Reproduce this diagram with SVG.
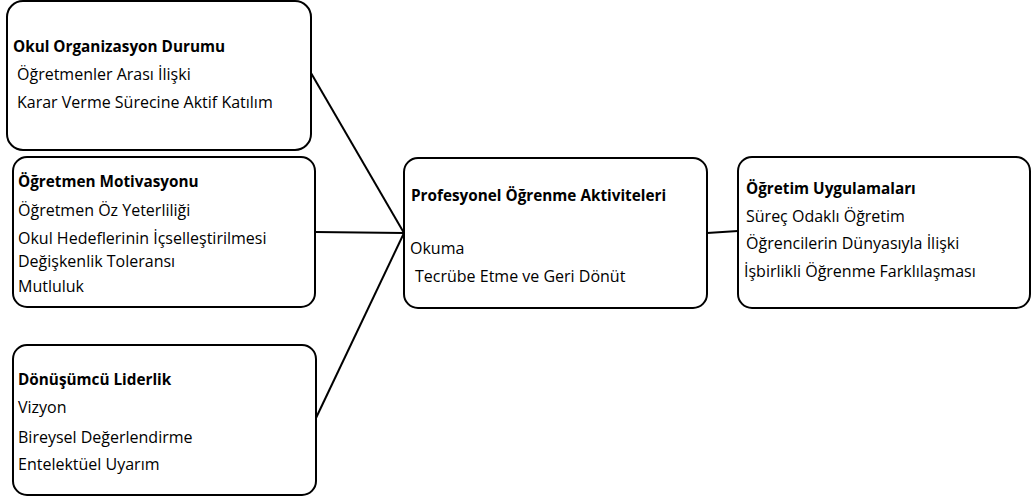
<svg xmlns="http://www.w3.org/2000/svg" width="1032" height="501" viewBox="0 0 1032 501">
<style>
.box{fill:#fff;stroke:#000;stroke-width:2}
.t{font-family:"Open Sans","Liberation Sans",sans-serif;font-size:16px;fill:#000}
.b{font-weight:bold;font-size:15.3px}
.c{stroke:#000;stroke-width:2;fill:none}
</style>
<rect width="1032" height="501" fill="#fff"/>
<g id="connectors">
<line class="c" x1="311" y1="73" x2="404" y2="233"/>
<line class="c" x1="315" y1="232" x2="404" y2="233"/>
<line class="c" x1="316" y1="418" x2="404" y2="233"/>
<line class="c" x1="707" y1="233" x2="738" y2="231"/>
</g>
<g id="okul">
<rect class="box" x="7" y="1" width="304" height="149" rx="16"/>
<text class="t b" x="13" y="52">Okul Organizasyon Durumu</text>
<text class="t" x="17" y="80">Öğretmenler Arası İlişki</text>
<text class="t" x="17" y="108">Karar Verme Sürecine Aktif Katılım</text>
</g>
<g id="motivasyon">
<rect class="box" x="13" y="157" width="302" height="150" rx="14"/>
<text class="t b" x="18" y="187">Öğretmen Motivasyonu</text>
<text class="t" x="18" y="216">Öğretmen Öz Yeterliliği</text>
<text class="t" x="18" y="244">Okul Hedeflerinin İçselleştirilmesi</text>
<text class="t" x="18" y="267">Değişkenlik Toleransı</text>
<text class="t" x="18" y="292">Mutluluk</text>
</g>
<g id="liderlik">
<rect class="box" x="13" y="345" width="303" height="150" rx="14"/>
<text class="t b" x="18" y="385">Dönüşümcü Liderlik</text>
<text class="t" x="18" y="413">Vizyon</text>
<text class="t" x="18" y="443">Bireysel Değerlendirme</text>
<text class="t" x="18" y="470">Entelektüel Uyarım</text>
</g>
<g id="profesyonel">
<rect class="box" x="404" y="158" width="303" height="150" rx="14"/>
<text class="t b" x="411" y="201">Profesyonel Öğrenme Aktiviteleri</text>
<text class="t" x="410" y="254">Okuma</text>
<text class="t" x="415" y="282">Tecrübe Etme ve Geri Dönüt</text>
</g>
<g id="ogretim">
<rect class="box" x="738" y="157" width="292" height="151" rx="14"/>
<text class="t b" x="746" y="194">Öğretim Uygulamaları</text>
<text class="t" x="746" y="222">Süreç Odaklı Öğretim</text>
<text class="t" x="746" y="249">Öğrencilerin Dünyasıyla İlişki</text>
<text class="t" x="744" y="277">İşbirlikli Öğrenme Farklılaşması</text>
</g>
</svg>
